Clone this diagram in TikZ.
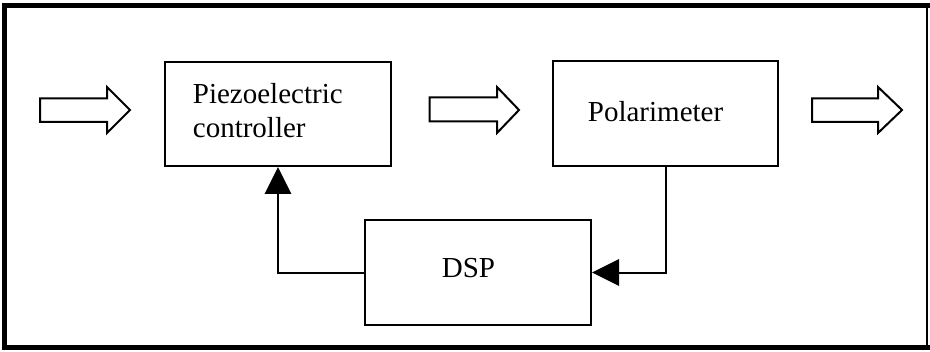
\documentclass[tikz,border=0pt]{standalone}
\usepackage{fontspec}
\setmainfont{Liberation Serif}
\usetikzlibrary{arrows.meta}
\begin{document}
\begin{tikzpicture}[x=0.5pt,y=-0.5pt,
  blockbox/.style={draw,line width=1pt,rectangle,inner sep=0pt,anchor=north west},
  lbl/.style={inner sep=0pt,anchor=base west,font=\fontsize{14.5pt}{17pt}\selectfont},
  fb/.style={line width=1pt,-{Triangle[length=13.5pt,width=13.2pt]}},
  bigarrow/.style={draw,line width=1pt,fill=white,line join=miter}]
\useasboundingbox (0,0) rectangle (930,352);
% frame
\draw[line width=2.6pt,line cap=rect] (927,5.5) -- (4.5,5.5) -- (4.5,347.5) -- (927,347.5);
\draw[line width=1.4pt] (927,5.5) -- (927,347.5);
% blocks
\node[blockbox,minimum width=113pt,minimum height=52pt] (piezo) at (164,61) {};
\node[blockbox,minimum width=112.5pt,minimum height=52.5pt] (pol) at (552,60) {};
\node[blockbox,minimum width=113pt,minimum height=52.5pt] (dsp) at (364,219) {};
% labels
\node[lbl] (t1) at (192.5,103.3) {Piezoelectric};
\node[lbl] (t2) at (192.5,138) {controller};
\node[lbl] (t3) at (587.5,122) {Polarimeter};
\node[lbl] (t4) at (441.5,277) {DSP};
% feedback connectors
\draw[fb] (dsp.west) -| (piezo.south);
\draw[fb] (pol.south) |- (dsp.east);
% hollow block arrows
\draw[bigarrow] (40,98.5) -- (107,98.5) -- (107,87) -- (130,110) -- (107,133) -- (107,122) -- (40,122) -- cycle;
\draw[bigarrow] (429.5,97.5) -- (497,97.5) -- (497,87) -- (519,110) -- (497,133) -- (497,121.5) -- (429.5,121.5) -- cycle;
\draw[bigarrow] (812,98.5) -- (878,98.5) -- (878,87) -- (902,110) -- (878,133) -- (878,122) -- (812,122) -- cycle;
\end{tikzpicture}
\end{document}
